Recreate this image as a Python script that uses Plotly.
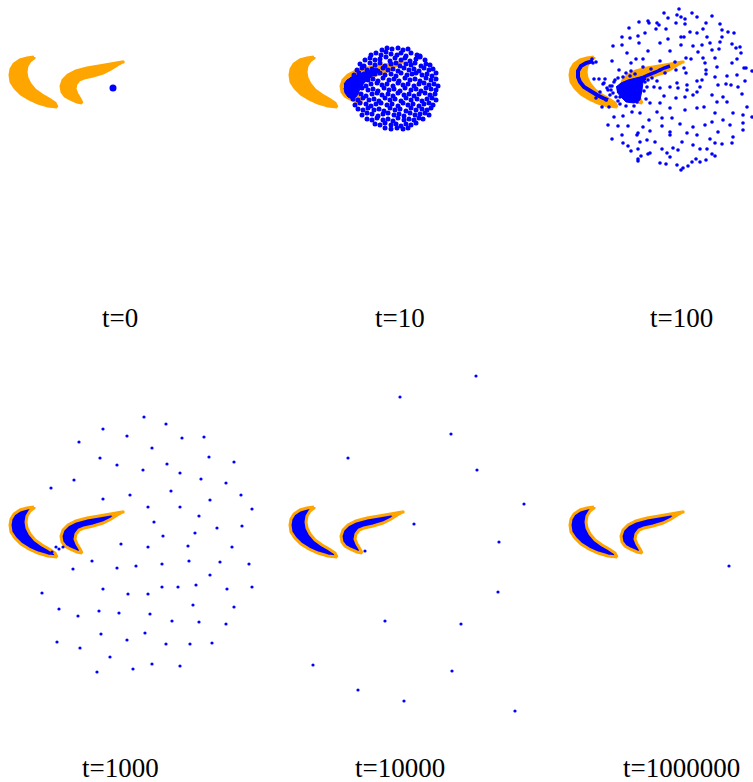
import plotly.graph_objects as go

ORANGE = "#FFA500"
BLUE = "#0000FF"

# ---- crescent outlines (shared data coordinates of every panel) ----
left_moon_x = [34, 27, 20, 14, 11, 10, 11, 15, 21, 29, 38, 48, 57, 55, 49, 42, 35, 30, 27, 26, 27, 30, 34, 34]
left_moon_y = [57, 58, 60, 64, 69, 75, 82, 88, 94, 99, 103, 106, 107, 103, 99, 95, 90, 84, 78, 72, 66, 61, 58, 57]
right_moon_x = [122, 115, 108, 99, 87, 76, 68, 63, 61, 62, 65, 70, 77, 82, 80, 77, 75, 76, 79, 84, 93, 103, 111, 118, 122]
right_moon_y = [62, 63, 64, 66, 68, 71, 75, 80, 86, 92, 96, 99, 102, 103, 99, 94, 89, 84, 80, 78, 76, 73, 69, 65, 62]
tail_dots_x = [113, 117, 120, 123]
tail_dots_y = [65, 64, 63, 62]

# ---- t=0 ----
t0_x = [113]
t0_y = [88]

# ---- t=10 ----
t10_blob_x = [64, 67, 72, 80, 88, 96, 100, 92, 85, 80, 78, 76, 72, 68, 65, 64]
t10_blob_y = [84, 80, 77, 74, 71, 68, 70, 76, 82, 88, 94, 97, 99, 97, 93, 88]
t10_x = [102, 107, 112, 118, 123, 128,
         91, 96, 101, 106, 111, 117, 121, 126, 131, 137, 140,
         85, 90, 95, 100, 106, 110, 115, 121, 125, 130, 136, 140, 145,
         80, 84, 90, 95, 100, 105, 111, 116, 120, 126, 131, 135, 141, 146, 150,
         77, 82, 87, 92, 97, 103, 108, 113, 118, 124, 129, 134, 139, 144, 149, 153,
         74, 79, 84, 89, 95, 100, 105, 111, 116, 121, 127, 132, 136, 142, 147, 152, 156,
         72, 77, 82, 88, 93, 98, 103, 109, 114, 119, 125, 130, 135, 140, 146, 151, 156,
         71, 76, 81, 86, 91, 97, 102, 107, 113, 118, 123, 128, 134, 139, 144, 149, 154, 158,
         72, 77, 82, 88, 93, 98, 104, 109, 114, 120, 125, 131, 136, 141, 146, 151, 156,
         71, 76, 81, 86, 92, 97, 102, 108, 113, 118, 124, 129, 134, 139, 145, 150, 155,
         73, 78, 83, 89, 94, 99, 105, 110, 115, 121, 126, 131, 137, 142, 147, 152, 156,
         75, 80, 86, 91, 96, 101, 107, 112, 118, 123, 128, 133, 139, 144, 149, 153,
         78, 83, 88, 94, 99, 104, 110, 115, 120, 126, 131, 136, 142, 147, 151,
         82, 87, 92, 98, 103, 108, 114, 119, 124, 130, 135, 140, 145, 149,
         87, 92, 97, 103, 108, 113, 118, 124, 129, 134, 139, 143,
         95, 100, 105, 111, 116, 121, 126, 131, 136,
         105, 111, 117, 123, 128]
t10_y = [50, 48, 49, 48, 50, 49,
         55, 53, 55, 52, 54, 55, 53, 56, 53, 55, 56,
         60, 58, 60, 59, 57, 61, 58, 60, 58, 61, 59, 57, 60,
         64, 66, 63, 65, 63, 66, 64, 63, 66, 64, 65, 63, 66, 64, 65,
         70, 68, 70, 69, 71, 68, 70, 69, 71, 68, 70, 69, 71, 68, 70, 69,
         75, 73, 74, 76, 74, 73, 75, 74, 76, 73, 75, 74, 73, 75, 74, 76, 73,
         79, 80, 78, 80, 79, 81, 78, 80, 79, 81, 78, 80, 79, 81, 78, 80, 79,
         85, 83, 84, 86, 84, 83, 85, 84, 86, 83, 85, 84, 86, 84, 83, 85, 84, 86,
         89, 90, 88, 90, 89, 91, 88, 90, 89, 91, 88, 90, 89, 91, 88, 89, 90,
         95, 93, 94, 96, 94, 93, 95, 94, 96, 93, 95, 94, 96, 94, 93, 95, 94,
         99, 100, 98, 100, 99, 101, 98, 100, 99, 101, 98, 100, 99, 101, 99, 98, 100,
         105, 103, 104, 106, 104, 103, 105, 104, 106, 103, 105, 104, 106, 104, 103, 105,
         109, 110, 108, 110, 109, 111, 108, 110, 109, 111, 108, 110, 109, 110, 108,
         115, 113, 114, 116, 114, 113, 115, 114, 116, 113, 115, 114, 113, 115,
         119, 120, 118, 120, 119, 121, 118, 120, 119, 120, 118, 119,
         124, 125, 123, 125, 124, 126, 124, 125, 123,
         128, 129, 128, 129, 128]

# ---- t=100 ----
t100_band_x = [33, 26, 21, 18, 18, 20, 24, 30, 37, 43, 48]
t100_band_y = [61, 63, 66, 71, 77, 82, 87, 91, 95, 98, 100]
t100_streak_x = [80, 88, 96, 104, 110]
t100_streak_y = [79, 75, 72, 68, 66]
t100_blob_x = [56, 61, 68, 76, 84, 86, 83, 82, 80, 74, 66, 61, 57]
t100_blob_y = [87, 83, 80, 78, 76, 79, 82, 90, 100, 103, 102, 97, 92]
t100_x = [119, 104, 117, 132, 121, 152, 137, 125, 79, 88, 97, 108, 146, 89, 99, 116, 125, 160,
          69, 96, 106, 143, 168, 174, 137, 130, 162, 85, 78, 62,
          121, 124, 147, 162, 70, 100, 108,
          53, 62, 79, 121, 142, 150, 160, 172, 159, 180, 88, 133, 67, 110, 138, 152, 176, 181,
          76, 52, 71, 83, 100, 115, 126, 131, 143, 155, 145, 177, 172, 33, 36, 32, 186,
          83, 59, 91, 100, 116, 124, 146, 157, 184, 192, 66, 105, 126,
          34, 45, 39, 137, 142, 155, 167, 177, 146, 185, 71, 117, 85, 97, 100, 110,
          43, 50, 127, 140, 158, 166, 171, 178, 87, 94, 118, 48, 127,
          40, 84, 137, 152, 182, 133, 104, 86, 77, 60, 46, 36, 163, 125, 116,
          157, 167, 187, 90, 100, 42, 49, 125, 110, 137, 144, 155, 173, 72, 80, 97,
          183, 192, 54, 63, 89, 102, 112, 120, 152, 163, 183, 145, 48, 58, 68, 83, 102, 133, 170,
          90, 78, 110, 127, 158, 183, 62, 77, 110, 137, 173, 52, 87, 150, 95,
          63, 80, 122, 155, 162, 172, 68, 133, 102, 118, 113, 147, 140, 71, 78,
          88, 90, 107, 152, 155, 81, 78, 78, 110, 136, 146, 140, 100, 106, 117, 123, 128, 132, 121,
          44, 47, 51, 53, 50, 56, 58, 52, 60, 66, 74, 55, 63, 70, 75, 88, 92, 58, 54]
t100_y = [9, 13, 15, 13, 17, 16, 17, 19, 22, 21, 23, 18, 23, 23, 25, 23, 24, 24,
          28, 29, 29, 29, 32, 33, 33, 32, 30, 33, 36, 37,
          37, 37, 37, 37, 38, 43, 39,
          46, 45, 43, 45, 45, 43, 42, 44, 49, 47, 51, 46, 53, 51, 52, 50, 48, 53,
          59, 61, 63, 59, 61, 62, 58, 59, 58, 58, 63, 59, 63, 63, 62, 59, 68,
          67, 70, 69, 70, 70, 68, 70, 67, 68, 71, 73, 73, 73,
          79, 79, 79, 81, 80, 77, 76, 75, 74, 81, 71, 83, 82, 81, 88, 87,
          84, 86, 85, 87, 85, 84, 85, 87, 87, 87, 88, 90, 90,
          92, 91, 92, 95, 94, 95, 96, 99, 102, 97, 100, 98, 97, 97, 98,
          102, 102, 107, 103, 103, 107, 107, 110, 108, 108, 107, 113, 113, 112, 113, 112,
          115, 117, 117, 116, 120, 118, 118, 124, 122, 120, 123, 125, 125, 126, 126, 127, 126, 127, 125,
          131, 133, 132, 133, 132, 130, 135, 135, 135, 135, 137, 139, 140, 139, 142,
          143, 142, 142, 143, 144, 143, 146, 145, 149, 150, 148, 149, 149, 151, 149,
          154, 153, 153, 154, 156, 156, 159, 161, 157, 159, 160, 162, 163, 164, 165, 168, 166, 162, 170,
          83, 88, 90, 93, 95, 97, 101, 86, 104, 106, 106, 80, 77, 76, 74, 80, 78, 78, 82]

# ---- t=1000 ----
t1000_x = [144, 166, 103, 127, 182, 204, 79, 152, 100, 209, 234, 117, 167, 143, 180, 74, 201, 226,
           51, 171, 130, 241, 103, 210, 148, 180, 252, 199, 154, 217, 242, 195, 163, 121, 148, 188,
           232, 92, 136, 117, 162, 189, 220, 249, 73, 210, 103, 162, 178, 196, 227, 252, 42, 128,
           148, 193, 234, 59, 99, 119, 150, 78, 172, 199, 226, 101, 145, 57, 127, 166, 190, 212,
           80, 110, 152, 180, 133, 97, 56, 59, 63, 52]
t1000_y = [-33, -26, -21, -14, -12, -13, -8, -2, 8, 7, 12, 15, 14, 20, 23, 30, 29, 33,
           38, 41, 45, 45, 49, 50, 57, 57, 59, 66, 72, 78, 76, 83, 86, 94, 97, 96,
           97, 111, 116, 118, 114, 111, 112, 114, 119, 125, 139, 137, 137, 135, 139, 137, 143, 144,
           144, 155, 157, 159, 161, 163, 164, 166, 171, 172, 174, 184, 183, 192, 190, 194, 194, 193,
           198, 207, 214, 216, 219, 222, 97, 99, 97, 102]

# ---- t=10000 ----
t10000_x = [196, 120, 171, 68, 197, 244, 134, 219, 85, 218, 105, 181, 33, 172, 78, 124, 235]
t10000_y = [-74, -53, -16, 8, 20, 54, 74, 92, 101, 142, 171, 174, 215, 221, 240, 251, 261]

# ---- t=1000000 ----
t1e6_x = [169]
t1e6_y = [116]

labels = ["t=0", "t=10", "t=100", "t=1000", "t=10000", "t=1000000"]

W, H = 753, 782
col_px = [(0, 280), (280, 560), (560, 753)]
row_px = [(0, 340, 0), (345, 782, 450)]  # (top px, bottom px, data origin px)

fig = go.Figure()


def moon(idx, fill, line, lw):
    for mx, my in ((left_moon_x, left_moon_y), (right_moon_x, right_moon_y)):
        fig.add_trace(go.Scatter(x=mx, y=my, mode="lines", fill="toself", fillcolor=fill,
                                 line=dict(color=line, width=lw), xaxis="x%d" % idx, yaxis="y%d" % idx,
                                 hoverinfo="skip", showlegend=False))
    fig.add_trace(go.Scatter(x=tail_dots_x, y=tail_dots_y, mode="markers",
                             marker=dict(color=ORANGE, size=3.5), xaxis="x%d" % idx, yaxis="y%d" % idx,
                             hoverinfo="skip", showlegend=False))


def poly(idx, px, py, color):
    fig.add_trace(go.Scatter(x=px, y=py, mode="lines", fill="toself", fillcolor=color,
                             line=dict(color=color, width=1), xaxis="x%d" % idx, yaxis="y%d" % idx,
                             hoverinfo="skip", showlegend=False))


def band(idx, px, py, width):
    fig.add_trace(go.Scatter(x=px, y=py, mode="lines", line=dict(color=BLUE, width=width),
                             xaxis="x%d" % idx, yaxis="y%d" % idx, hoverinfo="skip", showlegend=False))


def pts(idx, px, py, size):
    fig.add_trace(go.Scatter(x=px, y=py, mode="markers", cliponaxis=False,
                             marker=dict(color=BLUE, size=size, line=dict(width=0)),
                             xaxis="x%d" % idx, yaxis="y%d" % idx, hoverinfo="skip", showlegend=False))


# panel 1: t=0
moon(1, ORANGE, ORANGE, 3)
pts(1, t0_x, t0_y, 7)
# panel 2: t=10
moon(2, ORANGE, ORANGE, 3)
poly(2, t10_blob_x, t10_blob_y, BLUE)
pts(2, t10_x, t10_y, 5)
# panel 3: t=100
moon(3, ORANGE, ORANGE, 3)
band(3, t100_band_x, t100_band_y, 4)
band(3, t100_streak_x, t100_streak_y, 3.5)
poly(3, t100_blob_x, t100_blob_y, BLUE)
pts(3, t100_x, t100_y, 3.6)
# panel 4-6
moon(4, BLUE, ORANGE, 3)
pts(4, t1000_x, t1000_y, 3.2)
moon(5, BLUE, ORANGE, 3)
pts(5, t10000_x, t10000_y, 3.2)
moon(6, BLUE, ORANGE, 3)
pts(6, t1e6_x, t1e6_y, 3.2)

layout = dict(width=W, height=H, margin=dict(l=0, r=0, t=0, b=0),
              paper_bgcolor="white", plot_bgcolor="white", showlegend=False)
label_pos = []
for i in range(6):
    r, c = divmod(i, 3)
    x0, x1 = col_px[c]
    top, bot, org = row_px[r]
    n = "" if i == 0 else str(i + 1)
    layout["xaxis" + n] = dict(domain=[x0 / W, x1 / W], range=[0, x1 - x0], visible=False, fixedrange=True)
    layout["yaxis" + n] = dict(domain=[1 - bot / H, 1 - top / H], range=[bot - org, top - org],
                               visible=False, fixedrange=True)
    label_pos.append(((x0 + 120) / W if c < 2 else 681 / W, 1 - (318 if r == 0 else 768) / H))
fig.update_layout(**layout)

for (lx, ly), txt in zip(label_pos, labels):
    fig.add_annotation(x=lx, y=ly, xref="paper", yref="paper", text=txt, showarrow=False,
                       font=dict(family="Liberation Serif", size=27, color="black"),
                       xanchor="center", yanchor="middle")

fig.write_html("out.html")
